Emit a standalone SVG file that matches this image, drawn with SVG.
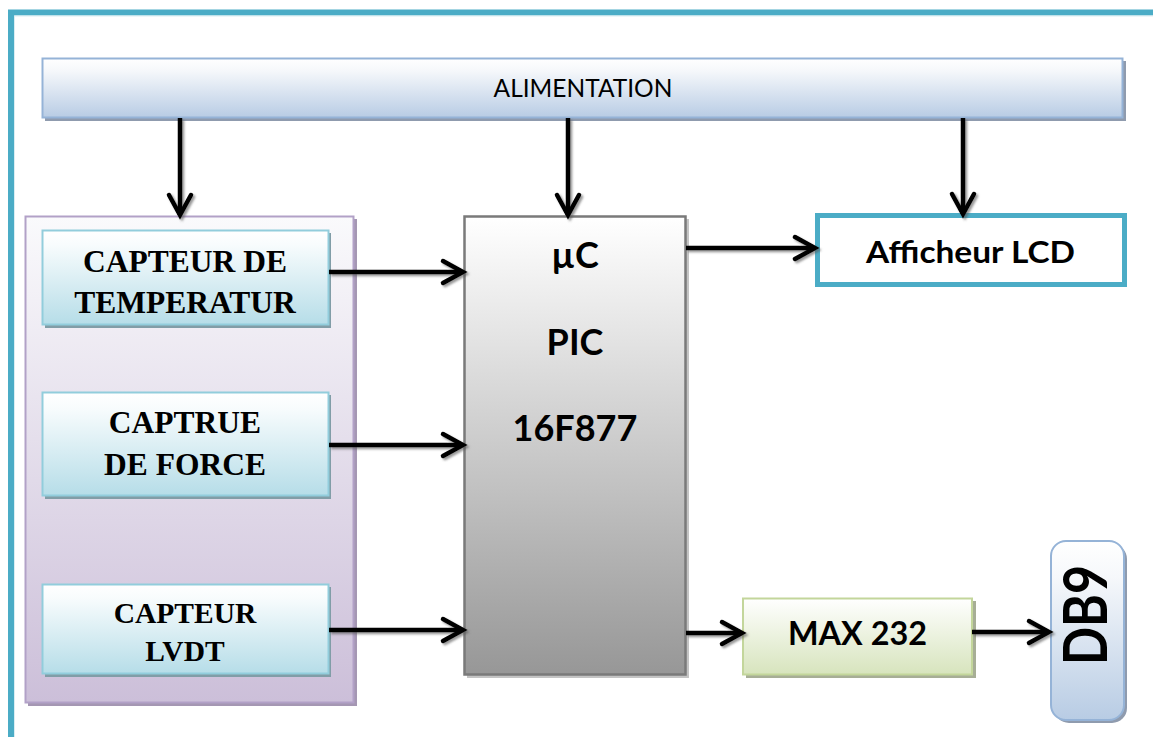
<svg xmlns="http://www.w3.org/2000/svg" width="1153" height="737" viewBox="0 0 1153 737">
<defs>
<linearGradient id="gBlue" x1="0" y1="0" x2="0" y2="1"><stop offset="0" stop-color="#FFFFFF"/><stop offset="0.2" stop-color="#F6F8FB"/><stop offset="1" stop-color="#B8CCE4"/></linearGradient>
<linearGradient id="gPurple" x1="0" y1="0" x2="0" y2="1"><stop offset="0" stop-color="#FAFAFC"/><stop offset="1" stop-color="#CCBFD9"/></linearGradient>
<linearGradient id="gAqua" x1="0" y1="0" x2="0" y2="1"><stop offset="0" stop-color="#FFFFFF"/><stop offset="0.15" stop-color="#F8FCFD"/><stop offset="1" stop-color="#B6DDE8"/></linearGradient>
<linearGradient id="gGray" x1="0" y1="0" x2="0" y2="1"><stop offset="0" stop-color="#FFFFFF"/><stop offset="1" stop-color="#979797"/></linearGradient>
<linearGradient id="gGreen" x1="0" y1="0" x2="0" y2="1"><stop offset="0" stop-color="#FFFFFF"/><stop offset="1" stop-color="#D7E4BD"/></linearGradient>
<filter id="ashadow" x="-20%" y="-20%" width="140%" height="140%"><feDropShadow dx="2" dy="2" stdDeviation="0.8" flood-color="#555" flood-opacity="0.6"/></filter>
<marker id="ah" markerWidth="30" markerHeight="30" refX="24" refY="15" orient="auto" markerUnits="userSpaceOnUse" viewBox="0 0 30 30">
<polyline points="4,4 24,15 4,26" fill="none" stroke="#000" stroke-width="4.5" stroke-linecap="round" stroke-linejoin="miter"/>
</marker>
</defs>
<style>
.serif{font-family:"Liberation Serif","Times New Roman",serif;font-weight:bold;fill:#000;text-anchor:middle}
.sans{font-family:Lato,"Open Sans","Liberation Sans",sans-serif;fill:#000;text-anchor:middle}
.b{font-weight:bold}
.conn line{stroke:#000;stroke-width:4.5;marker-end:url(#ah)}
</style>
<rect width="1153" height="737" fill="#FFFFFF"/>
<g id="frame">
<path d="M11,737 V12.5 H1153" fill="none" stroke="#4BACC6" stroke-width="6"/>
<path d="M14.5,737 V16 H1153" fill="none" stroke="#DAEEF3" stroke-width="1"/>
</g>
<g id="alimentation">
<rect x="45" y="61" width="1081" height="60" fill="#8F9BAE"/>
<rect x="42.5" y="58.5" width="1080" height="59" fill="url(#gBlue)" stroke="#95B3D7" stroke-width="2"/>
<text class="sans" x="583" y="97" font-size="24.5">ALIMENTATION</text>
</g>
<g id="capteurs">
<rect x="28" y="219" width="329" height="487" fill="#A597B3"/>
<rect x="25.5" y="216.5" width="328" height="486" fill="url(#gPurple)" stroke="#B2A1C7" stroke-width="2"/>
</g>
<g id="capteur-temperature">
<rect x="45" y="233" width="286" height="95" fill="#819DA7"/>
<rect x="42.5" y="230.5" width="286" height="94" fill="url(#gAqua)" stroke="#92CDDC" stroke-width="2"/>
<text class="serif" x="185" y="272" font-size="31.5">CAPTEUR DE</text>
<text class="serif" x="185" y="313" font-size="31.5">TEMPERATUR</text>
</g>
<g id="capteur-force">
<rect x="45" y="395" width="286" height="104" fill="#819DA7"/>
<rect x="42.5" y="392.5" width="286" height="103" fill="url(#gAqua)" stroke="#92CDDC" stroke-width="2"/>
<text class="serif" x="185" y="433" font-size="31.5">CAPTRUE</text>
<text class="serif" x="185" y="475" font-size="31.5">DE FORCE</text>
</g>
<g id="capteur-lvdt">
<rect x="45" y="587" width="286" height="90" fill="#819DA7"/>
<rect x="42.5" y="584.5" width="286" height="89" fill="url(#gAqua)" stroke="#92CDDC" stroke-width="2"/>
<text class="serif" x="185" y="623" font-size="29.5">CAPTEUR</text>
<text class="serif" x="185" y="661" font-size="29.5">LVDT</text>
</g>
<g id="pic">
<rect x="467" y="219" width="222" height="459" fill="#C4C4C4"/>
<rect x="464.5" y="216.5" width="221" height="458" fill="url(#gGray)" stroke="#7A7A7A" stroke-width="2.5"/>
<text class="sans b" x="575" y="268" font-size="36">µC</text>
<text class="sans b" x="575" y="355" font-size="36">PIC</text>
<text class="sans b" x="575" y="441" font-size="36">16F877</text>
</g>
<g id="lcd">
<rect x="817.5" y="215.5" width="307" height="69" fill="#FFFFFF" stroke="#4BACC6" stroke-width="5"/>
<text class="sans b" x="970.5" y="263" font-size="31" textLength="209" lengthAdjust="spacingAndGlyphs">Afficheur LCD</text>
</g>
<g id="max232">
<rect x="746" y="601" width="230" height="77" fill="#A7AE96"/>
<rect x="743" y="598.5" width="229" height="76" fill="url(#gGreen)" stroke="#C3D69B" stroke-width="2"/>
<text class="sans b" x="857.5" y="645" font-size="32.5" textLength="139" lengthAdjust="spacingAndGlyphs">MAX 232</text>
</g>
<g id="db9">
<rect x="1054" y="544" width="73" height="179" rx="15" fill="#8F9BAE"/>
<rect x="1051" y="541" width="73" height="179" rx="15" fill="url(#gBlue)" stroke="#95B3D7" stroke-width="2"/>
<text class="sans b" transform="translate(1107,615) rotate(-90)" font-size="61" textLength="100" lengthAdjust="spacingAndGlyphs">DB9</text>
</g>
<g id="connectors" class="conn" filter="url(#ashadow)">
<line x1="180" y1="118" x2="180" y2="215"/>
<line x1="568" y1="118" x2="568" y2="215"/>
<line x1="963" y1="118" x2="963" y2="214"/>
<line x1="329" y1="272" x2="463" y2="272"/>
<line x1="329" y1="445" x2="463" y2="445"/>
<line x1="329" y1="630" x2="463" y2="630"/>
<line x1="686" y1="248" x2="815" y2="248"/>
<line x1="686" y1="633" x2="742" y2="633"/>
<line x1="972" y1="632" x2="1049" y2="632"/>
</g>
</svg>
